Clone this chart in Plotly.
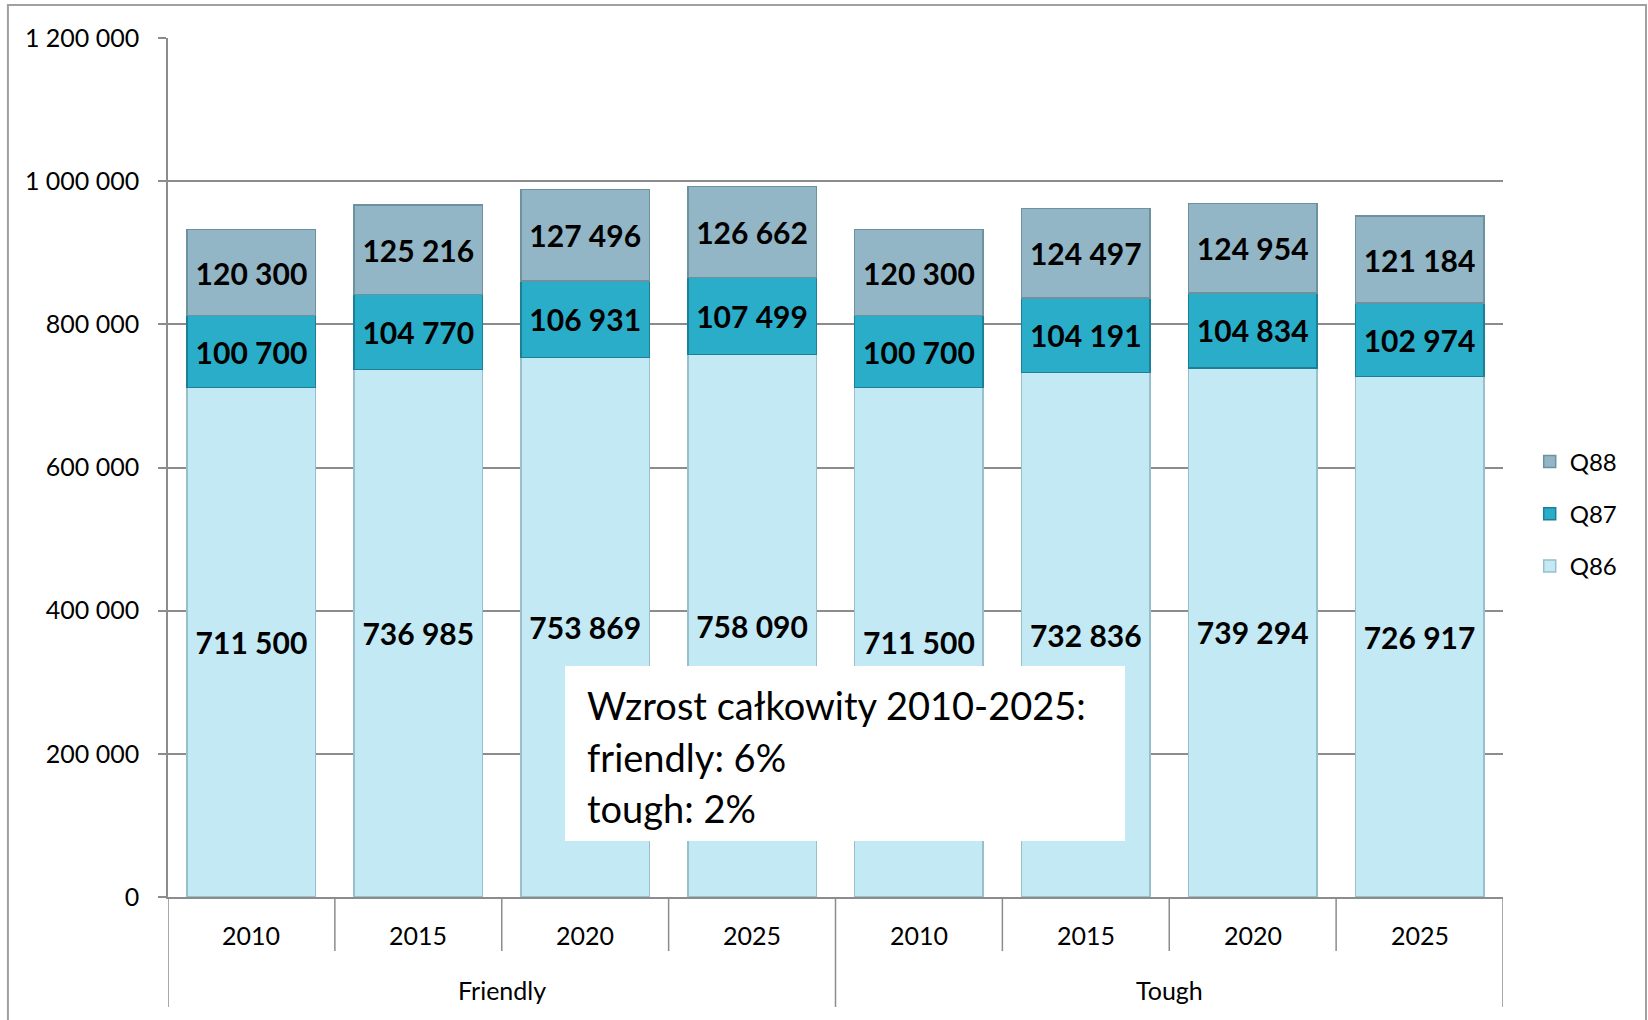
import plotly.graph_objects as go

# Scenario groups and years along the category axis
groups = ["Friendly", "Friendly", "Friendly", "Friendly", "Tough", "Tough", "Tough", "Tough"]
years = ["2010", "2015", "2020", "2025", "2010", "2015", "2020", "2025"]

# Stacked series values
q86 = [711500, 736985, 753869, 758090, 711500, 732836, 739294, 726917]
q87 = [100700, 104770, 106931, 107499, 100700, 104191, 104834, 102974]
q88 = [120300, 125216, 127496, 126662, 120300, 124497, 124954, 121184]

y_ticks = [0, 200000, 400000, 600000, 800000, 1000000, 1200000]

note_lines = ["Wzrost całkowity 2010-2025:", "friendly: 6%", "tough: 2%"]

FONT = "Lato, 'Open Sans', sans-serif"
GRID = "#8c8c8c"

xpos = list(range(len(years)))

series = [
    ("Q86", q86, "#c3e9f4", "#98bfcb", 3),
    ("Q87", q87, "#2aadc9", "#1d7f96", 2),
    ("Q88", q88, "#92b6c5", "#6d919f", 1),
]

fig = go.Figure()
for name, vals, color, edge, rank in series:
    fig.add_trace(go.Bar(
        x=xpos, y=vals, name=name,
        width=0.77,
        marker=dict(color=color, line=dict(color=edge, width=1.5)),
        text=vals, texttemplate="%{y:,}",
        textposition="inside", insidetextanchor="middle",
        textfont=dict(family=FONT, size=30, color="black", weight="bold"),
        legendgroup=name, legendrank=rank,
        hoverinfo="skip",
    ))

shapes = []
# Category dividers below the axis
for k in range(len(years) + 1):
    boundary = k - 0.5
    is_group_edge = k in (0, len(years)) or groups[k - 1] != groups[k]
    shapes.append(dict(
        type="line", xref="x", yref="paper",
        x0=boundary, x1=boundary, y0=0, y1=-0.128 if is_group_edge else -0.063,
        line=dict(color=GRID, width=1.5),
    ))
# Outer chart frame
shapes.append(dict(
    type="rect", xref="paper", yref="paper",
    x0=-0.1199, x1=1.1071, y0=-0.2, y1=1.0384,
    line=dict(color="#a0a0a0", width=2), fillcolor="rgba(0,0,0,0)", layer="below",
))
# White panel behind the summary note
shapes.append(dict(
    type="rect", xref="paper", yref="paper",
    x0=0.2974, x1=0.7169, y0=0.0652, y1=0.2689,
    line=dict(width=0), fillcolor="white", layer="above",
))

annotations = []
for xi, yr in zip(xpos, years):
    annotations.append(dict(
        x=xi, y=-0.0442, xref="x", yref="paper", text=yr, showarrow=False,
        font=dict(family=FONT, size=25, color="black"), yanchor="middle",
    ))
# Group labels centred under their categories
seen = []
for g in groups:
    if g not in seen:
        seen.append(g)
for g in seen:
    idx = [i for i, gg in enumerate(groups) if gg == g]
    annotations.append(dict(
        x=(idx[0] + idx[-1]) / 2, y=-0.108, xref="x", yref="paper", text=g,
        showarrow=False, font=dict(family=FONT, size=25, color="black"), yanchor="middle",
    ))
# Summary note, one annotation per line
for j, line in enumerate(note_lines):
    annotations.append(dict(
        x=0.3125, y=0.2233 - j * 0.0600, xref="paper", yref="paper",
        xanchor="left", yanchor="middle", text=line, showarrow=False,
        font=dict(family=FONT, size=38, color="black"),
    ))

fig.update_layout(
    width=1648, height=1020,
    margin=dict(l=168, r=145, t=38, b=123),
    paper_bgcolor="white", plot_bgcolor="white",
    barmode="stack", bargap=0.23,
    separators=", ",
    font=dict(family=FONT, color="black"),
    showlegend=True,
    legend=dict(
        x=1.02, y=0.446, xanchor="left", yanchor="middle",
        traceorder="grouped", tracegroupgap=18,
        font=dict(family=FONT, size=24, color="black"),
        bgcolor="rgba(0,0,0,0)", itemwidth=30,
    ),
    uniformtext=dict(minsize=30, mode="show"),
    shapes=shapes,
    annotations=annotations,
)

fig.update_xaxes(
    range=[-0.5, len(years) - 0.5], showticklabels=False, ticks="",
    showgrid=False, zeroline=False, showline=True, linecolor=GRID, linewidth=2,
    fixedrange=True,
)
fig.update_yaxes(
    range=[0, 1200000], tickvals=y_ticks, tickformat=",d",
    ticks="outside", ticklen=8, tickcolor=GRID, tickwidth=1.5,
    showgrid=True, gridcolor=GRID, gridwidth=1.5,
    showline=True, linecolor=GRID, linewidth=1.5, zeroline=False,
    tickfont=dict(family=FONT, size=25, color="black"),
    ticklabelstandoff=14,
    fixedrange=True,
)

fig.write_html("out.html")
